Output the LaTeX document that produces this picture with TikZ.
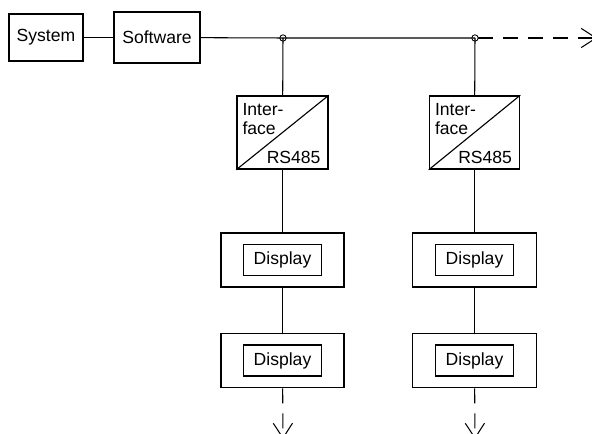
\documentclass[tikz,border=0pt]{standalone}
\usepackage{fontspec}
\setmainfont{Liberation Sans}
\usetikzlibrary{arrows.meta}

\begin{document}
\begin{tikzpicture}[x=0.25mm,y=-0.25mm,
   font=\fontsize{12.5}{13.5}\selectfont,
   boite/.style={draw,line width=1.1pt,inner sep=0pt},
   liaison/.style={line width=0.75pt},
   suite/.style={line width=0.75pt,dash pattern=on 3.75mm off 2.5mm,-{Straight Barb[length=3.7mm,width=4.8mm,line width=0.75pt]}},
   noeud/.style={circle,draw,inner sep=0pt,minimum size=1.6mm,line width=0.6pt}]

   \useasboundingbox (0,0) rectangle (592,434);

%% Partie 1 : bus
   \node [boite,minimum width=18.5mm,minimum height=11.75mm] (system) at (46,37.5) {System};
   \node [boite,minimum width=21.5mm,minimum height=12.75mm] (software) at (157,37.5) {Software};
   \coordinate (j1) at (283,38);
   \coordinate (j2) at (475,38);
   \coordinate (suiteBus) at (597,38);

   \draw [liaison] (system) -- (software);
   \draw [liaison] (software) -- (j1) -- (j2);
   \draw [suite] (j2) ++(3,0) -- (suiteBus);

%% Partie 2 : premiere ligne
\def\PositionB{0}
   \node [boite,minimum width=22.75mm,minimum height=18.25mm] (if1) at (282.5+\PositionB,132.5) {};
   \draw [line width=0.8pt] (if1.south west) -- (if1.north east);
   \node [anchor=north west,align=left,inner sep=0pt] (if1txt) at ([xshift=1.5mm,yshift=-2mm]if1.north west) {Inter-\\face};
   \node [anchor=south east,inner sep=0pt] (if1rs) at ([xshift=-2mm,yshift=1.5mm]if1.south east) {RS485};

   \node [boite,minimum width=30.75mm,minimum height=13.5mm] (dispA1) at (282.5+\PositionB,260) {};
   \node [boite,line width=1.3pt,minimum width=19.5mm,minimum height=7.75mm] (ecranA1) at (dispA1) {Display};
   \node [boite,minimum width=30.75mm,minimum height=13.5mm] (dispA2) at (282.5+\PositionB,360.5) {};
   \node [boite,line width=1.3pt,minimum width=19.5mm,minimum height=7.75mm] (ecranA2) at (dispA2) {Display};
   \coordinate (basA) at (283+\PositionB,439);

   \draw [liaison] (j1) -- (if1);
   \draw [liaison] (if1) -- (dispA1);
   \draw [liaison] (dispA1) -- (dispA2);
   \draw [suite] (dispA2) -- (basA);
   \node [noeud] (n1) at (j1) {};

%% Partie 3 : deuxieme ligne
\def\PositionB{192}
   \node [boite,minimum width=22.5mm,minimum height=18.25mm] (if2) at (282.5+\PositionB,132.5) {};
   \draw [line width=0.8pt] (if2.south west) -- (if2.north east);
   \node [anchor=north west,align=left,inner sep=0pt] (if2txt) at ([xshift=1.5mm,yshift=-2mm]if2.north west) {Inter-\\face};
   \node [anchor=south east,inner sep=0pt] (if2rs) at ([xshift=-2mm,yshift=1.5mm]if2.south east) {RS485};

   \node [boite,minimum width=31mm,minimum height=13.5mm] (dispB1) at (282.5+\PositionB,260) {};
   \node [boite,line width=1.3pt,minimum width=19.5mm,minimum height=7.75mm] (ecranB1) at (dispB1) {Display};
   \node [boite,minimum width=31mm,minimum height=13.5mm] (dispB2) at (282.5+\PositionB,360.5) {};
   \node [boite,line width=1.3pt,minimum width=19.5mm,minimum height=7.75mm] (ecranB2) at (dispB2) {Display};
   \coordinate (basB) at (283+\PositionB,439);

   \draw [liaison] (j2) -- (if2);
   \draw [liaison] (if2) -- (dispB1);
   \draw [liaison] (dispB1) -- (dispB2);
   \draw [suite] (dispB2) -- (basB);
   \node [noeud] (n2) at (j2) {};

\end{tikzpicture}
\end{document}
